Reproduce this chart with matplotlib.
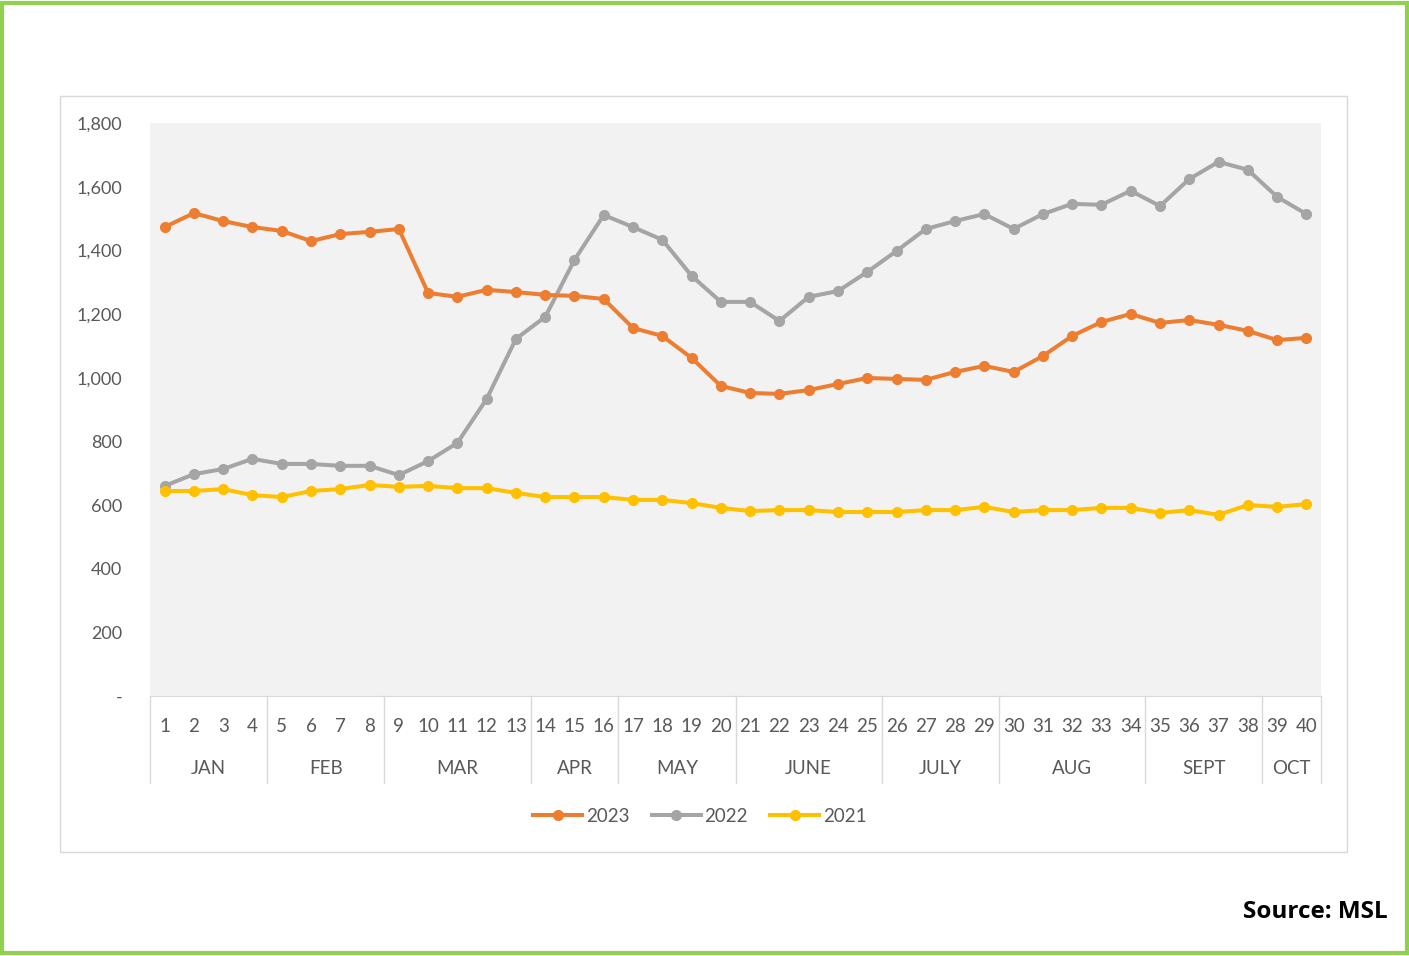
import numpy as np
import matplotlib.pyplot as plt
from matplotlib.patches import Rectangle
import matplotlib.transforms as mtransforms

plt.rcParams['font.family'] = ['Lato', 'DejaVu Sans']

weeks = list(range(1, 41))
months = ['JAN', 'FEB', 'MAR', 'APR', 'MAY', 'JUNE', 'JULY', 'AUG', 'SEPT', 'OCT']
month_weeks = [4, 4, 5, 3, 4, 5, 4, 5, 4, 2]

y2023 = [1473, 1517, 1492, 1473, 1461, 1429, 1451, 1458, 1467, 1266,
         1254, 1276, 1269, 1260, 1257, 1247, 1156, 1131, 1062, 974,
         952, 949, 961, 980, 999, 996, 993, 1018, 1037, 1018,
         1068, 1131, 1175, 1200, 1172, 1181, 1166, 1147, 1118, 1125]
y2022 = [660, 697, 713, 745, 729, 729, 723, 723, 694, 738,
         795, 933, 1122, 1191, 1370, 1511, 1473, 1433, 1320, 1238,
         1238, 1178, 1254, 1272, 1332, 1398, 1467, 1492, 1514, 1467,
         1514, 1546, 1543, 1587, 1539, 1624, 1678, 1653, 1568, 1514]
y2021 = [644, 644, 650, 631, 625, 644, 650, 663, 657, 660,
         653, 653, 638, 625, 625, 625, 616, 616, 606, 591,
         581, 584, 584, 578, 578, 578, 584, 584, 594, 578,
         584, 584, 591, 591, 575, 584, 569, 600, 594, 603]

fig = plt.figure(figsize=(14.09, 9.56), dpi=100)
ax = fig.add_axes([150/1409, 1-696/956, 1171/1409, 573/956])
ax.set_facecolor('#F2F2F2')

lw = 2.9
ms = 7
ax.plot(weeks, y2023, color='#ED7D31', lw=lw, marker='o', ms=ms, label='2023', zorder=3)
ax.plot(weeks, y2022, color='#A5A5A5', lw=lw, marker='o', ms=ms, label='2022', zorder=2)
ax.plot(weeks, y2021, color='#FFC000', lw=lw, marker='o', ms=ms, label='2021', zorder=2)

ax.set_xlim(0.5, 40.5)
ax.set_ylim(0, 1800)
yt = list(range(0, 1801, 200))
ax.set_yticks(yt)
ax.set_yticklabels(['-'] + [f'{v:,}' for v in yt[1:]])
ax.set_xticks(weeks)
ax.set_xticklabels([str(w) for w in weeks])
ax.tick_params(axis='y', length=0, pad=20, labelsize=13, labelcolor='#595959')
ax.tick_params(axis='x', length=0, pad=16, labelsize=13.5, labelcolor='#595959')
for s in ['top', 'right', 'left']:
    ax.spines[s].set_visible(False)
ax.spines['bottom'].set_color('#D9D9D9')

# month group labels and separators
trans = mtransforms.blended_transform_factory(ax.transData, ax.transAxes)
edge = 0.5
ax.plot([edge, edge], [0, -0.152], transform=trans, color='#D9D9D9', lw=1, clip_on=False)
for m, n in zip(months, month_weeks):
    ax.text(edge + n / 2, -0.126, m, transform=trans, ha='center', va='center',
            fontsize=13.5, color='#595959')
    edge += n
    ax.plot([edge, edge], [0, -0.152], transform=trans, color='#D9D9D9', lw=1, clip_on=False)

fig.legend(loc='center', bbox_to_anchor=(700/1409, 1-816/956), ncol=3, frameon=False,
           fontsize=13.5, handlelength=2.6, handletextpad=0.2, columnspacing=1.2,
           labelcolor='#595959')

# chart frame and outer green border
fig.patches.append(Rectangle((60/1409, 1-852/956), 1287/1409, 756/956, transform=fig.transFigure,
                             fill=False, edgecolor='#D9D9D9', lw=1))
fig.patches.append(Rectangle((2/1409, 3/956), 1405/1409, 950/956, transform=fig.transFigure,
                             fill=False, edgecolor='#92D050', lw=3))

fig.text(1388/1409, 1-912/956, 'Source: MSL', ha='right', va='center',
         fontsize=17.5, fontweight='bold', color='black', family=['Open Sans', 'DejaVu Sans'])

fig.savefig('out.png', dpi=100)
